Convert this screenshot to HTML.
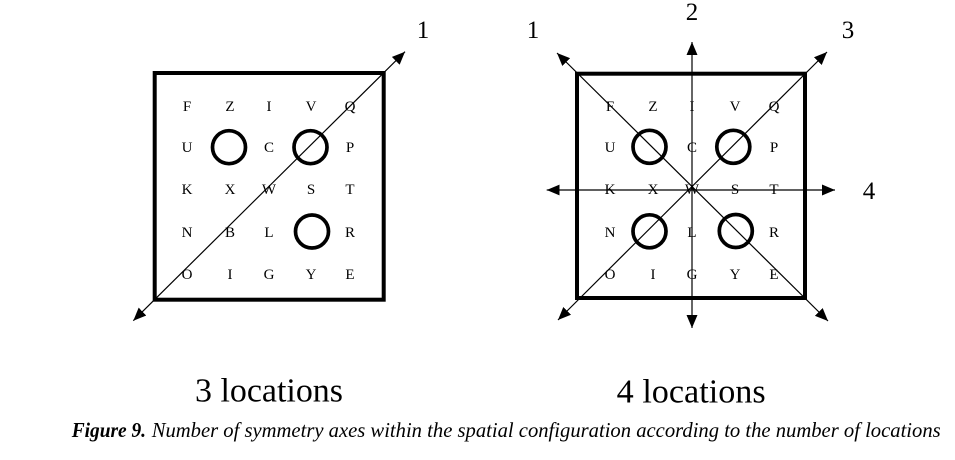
<!DOCTYPE html>
<html>
<head>
<meta charset="utf-8">
<style>
  html, body { margin: 0; padding: 0; background: #fff; }
  body { width: 955px; height: 460px; overflow: hidden; }
  svg { display: block; }
  .g { font-family: "Liberation Serif", serif; font-size: 15px; fill: #000; text-anchor: middle; }
  .n { font-family: "Liberation Serif", serif; font-size: 25px; fill: #000; text-anchor: middle; }
  .big { font-family: "Liberation Serif", serif; font-size: 34px; fill: #000; }
  .cap { font-family: "Liberation Serif", serif; font-size: 21px; font-style: italic; fill: #000; }
</style>
</head>
<body>
<svg width="955" height="460" viewBox="0 0 955 460" xmlns="http://www.w3.org/2000/svg">
  <defs>
    <marker id="ah" markerUnits="userSpaceOnUse" markerWidth="13" markerHeight="11" refX="13" refY="5.5" orient="auto-start-reverse">
      <path d="M0,0 L13,5.5 L0,11 z" fill="#000"/>
    </marker>
  </defs>

  <!-- LEFT DIAGRAM -->
  <rect x="154.7" y="73" width="229" height="226.7" fill="none" stroke="#000" stroke-width="4"/>
  <line x1="133.3" y1="320.7" x2="405" y2="51.7" stroke="#000" stroke-width="1.2" marker-start="url(#ah)" marker-end="url(#ah)"/>
  <text class="n" x="423" y="38">1</text>

  <g class="g">
    <text x="187" y="111">F</text><text x="230" y="111">Z</text><text x="269" y="111">I</text><text x="311" y="111">V</text><text x="350" y="111">Q</text>
    <text x="187" y="152">U</text><text x="269" y="152">C</text><text x="350" y="152">P</text>
    <text x="187" y="194">K</text><text x="230" y="194">X</text><text x="269" y="194">W</text><text x="311" y="194">S</text><text x="350" y="194">T</text>
    <text x="187" y="237">N</text><text x="230" y="237">B</text><text x="269" y="237">L</text><text x="350" y="237">R</text>
    <text x="187" y="279">O</text><text x="230" y="279">I</text><text x="269" y="279">G</text><text x="311" y="279">Y</text><text x="350" y="279">E</text>
  </g>
  <g fill="none" stroke="#000" stroke-width="3.7">
    <circle cx="229" cy="147.2" r="16.5"/>
    <circle cx="310.5" cy="147.2" r="16.5"/>
    <circle cx="312" cy="231.5" r="16.5"/>
  </g>

  <!-- RIGHT DIAGRAM -->
  <rect x="577" y="73.7" width="228" height="224.3" fill="none" stroke="#000" stroke-width="4"/>
  <g stroke="#000" stroke-width="1.2" marker-start="url(#ah)" marker-end="url(#ah)">
    <line x1="557" y1="53" x2="828" y2="321"/>
    <line x1="558" y1="320" x2="827" y2="52"/>
    <line x1="692" y1="42" x2="692" y2="328"/>
    <line x1="546.7" y1="190" x2="835" y2="190"/>
  </g>
  <text class="n" x="533" y="38">1</text>
  <text class="n" x="692" y="20">2</text>
  <text class="n" x="848" y="38">3</text>
  <text class="n" x="869" y="199">4</text>

  <g class="g">
    <text x="610" y="111">F</text><text x="653" y="111">Z</text><text x="692" y="111">I</text><text x="735" y="111">V</text><text x="774" y="111">Q</text>
    <text x="610" y="152">U</text><text x="692" y="152">C</text><text x="774" y="152">P</text>
    <text x="610" y="194">K</text><text x="653" y="194">X</text><text x="692" y="194">W</text><text x="735" y="194">S</text><text x="774" y="194">T</text>
    <text x="610" y="237">N</text><text x="692" y="237">L</text><text x="774" y="237">R</text>
    <text x="610" y="279">O</text><text x="653" y="279">I</text><text x="692" y="279">G</text><text x="735" y="279">Y</text><text x="774" y="279">E</text>
  </g>
  <g fill="none" stroke="#000" stroke-width="3.7">
    <circle cx="649.5" cy="146.8" r="16.5"/>
    <circle cx="733.3" cy="146.8" r="16.5"/>
    <circle cx="649.5" cy="231.3" r="16.5"/>
    <circle cx="735.8" cy="231" r="16.5"/>
  </g>

  <!-- LABELS -->
  <text class="big" x="195" y="401.7" textLength="148" lengthAdjust="spacingAndGlyphs">3 locations</text>
  <text class="big" x="616.7" y="402.3" textLength="149" lengthAdjust="spacingAndGlyphs">4 locations</text>

  <text class="cap" x="71.7" y="437" font-weight="bold" textLength="74.3" lengthAdjust="spacingAndGlyphs">Figure 9.</text>
  <text class="cap" x="151.7" y="437" textLength="789" lengthAdjust="spacingAndGlyphs">Number of symmetry axes within the spatial configuration according to the number of locations</text>
</svg>
</body>
</html>
